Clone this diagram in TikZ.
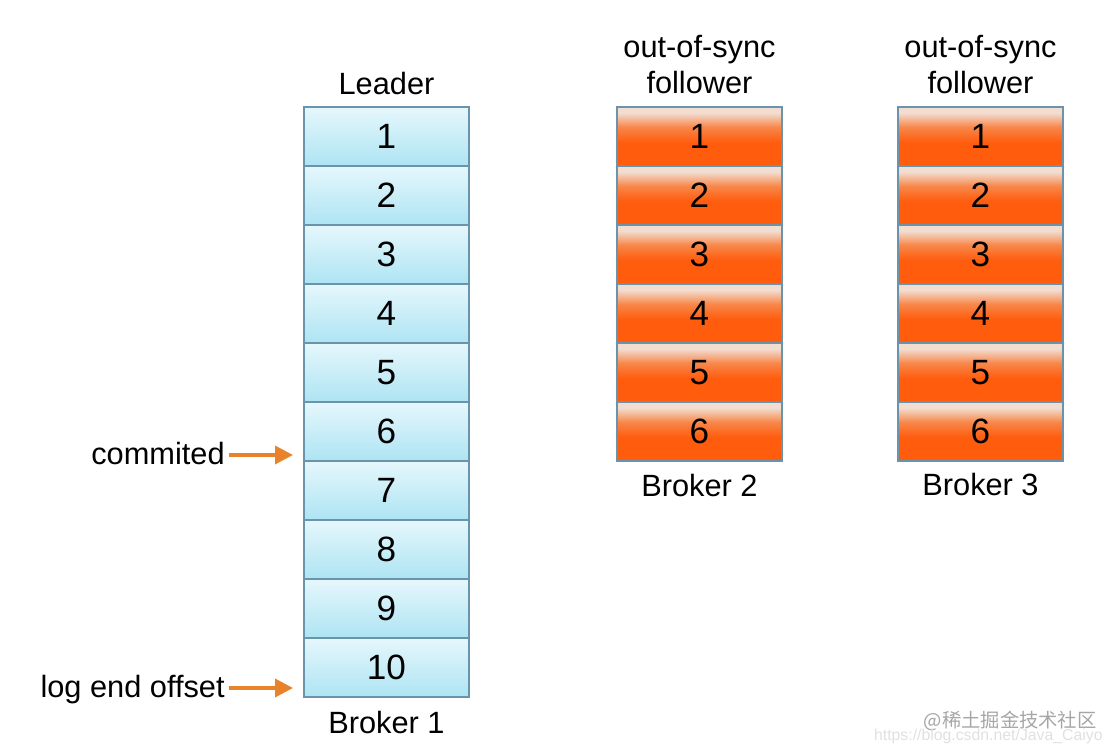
\documentclass[tikz,border=0pt]{standalone}
\usepackage{fontspec}
\setmainfont{Liberation Sans}
\newfontfamily\cjkfont{Noto Sans CJK SC}
\usetikzlibrary{arrows.meta, positioning}

\definecolor{cellEdge}{HTML}{6A94AB}
\definecolor{blueTop}{HTML}{E6F7FC}
\definecolor{blueBot}{HTML}{ADE4F3}
\definecolor{orgFull}{HTML}{FF5C0D}
\definecolor{orgMid}{HTML}{F8874A}
\definecolor{orgLight}{HTML}{F2DDD0}
\definecolor{ptrOrange}{HTML}{E8832C}
\pgfdeclareverticalshading{orangecell}{100bp}{color(0bp)=(orgFull); color(25bp)=(orgFull); color(45bp)=(orgFull); color(58bp)=(orgMid); color(70bp)=(orgLight); color(75bp)=(orgLight); color(100bp)=(orgLight)}

\begin{document}
\begin{tikzpicture}[
    lcell/.style={
      draw=cellEdge, line width=0.8pt, minimum width=3.3cm, minimum height=1.18cm,
      inner sep=0pt, top color=blueTop, bottom color=blueBot,
      font=\fontsize{20}{22}\selectfont
    },
    fcell/.style={
      draw=cellEdge, line width=0.8pt, minimum width=3.3cm, minimum height=1.18cm,
      inner sep=0pt, shading=orangecell,
      font=\fontsize{20}{22}\selectfont
    },
    lbl/.style={font=\fontsize{17.5}{20}\selectfont, inner sep=0pt, align=center},
    ptr/.style={-{Triangle[length=3.6mm, width=3.6mm]}, draw=ptrOrange, line width=2.1pt},
    wmark/.style={inner sep=0pt, anchor=base east}
  ]
    \useasboundingbox (0,0) rectangle (22.34,-15.02);

    % --- Broker 1 (leader) ---
    \foreach \i in {1,...,10}
      \node[lcell] (ld\i) at (7.73, {-1.55-1.18*\i}) {\i};
    \node[lbl, anchor=base] (ldhd) at (7.73, -1.90) {Leader};
    \node[lbl, anchor=base] (bk1)  at (7.73, -14.66) {Broker 1};

    % --- Broker 2 / 3 (followers) ---
    \foreach \i in {1,...,6} {
      \node[fcell] (fa\i) at (13.99, {-1.55-1.18*\i}) {\i};
      \node[fcell] (fb\i) at (19.61, {-1.55-1.18*\i}) {\i};
    }
    \node[lbl] (fahd) at (13.99, -1.29) {out-of-sync\\follower};
    \node[lbl] (fbhd) at (19.61, -1.29) {out-of-sync\\follower};
    \node[lbl, anchor=base] (bk2) at (13.99, -9.94) {Broker 2};
    \node[lbl, anchor=base] (bk3) at (19.61, -9.92) {Broker 3};

    % --- offsets ---
    \node[lbl, anchor=base east] (cmt) at (4.50, -9.30) {commited};
    \node[lbl, anchor=base east] (leo) at (4.50, -13.94) {log end offset};
    \coordinate (cmtip) at (5.86, -9.10);
    \coordinate (leotip) at (5.86, -13.76);
    \draw[ptr] ([xshift=2pt]cmt.east |- cmtip) -- (cmtip);
    \draw[ptr] ([xshift=2pt]leo.east |- leotip) -- (leotip);

    % --- watermark ---
    \node[wmark, font=\cjkfont\fontsize{11}{12}\selectfont, text=black!35] (wm1) at (21.94, -14.54) {@稀土掘金技术社区};
    \node[wmark, font=\fontsize{9}{10}\selectfont, text=black!12] (wm2) at (22.06, -14.80) {https://blog.csdn.net/Java\_Caiyo};
  \end{tikzpicture}
\end{document}
